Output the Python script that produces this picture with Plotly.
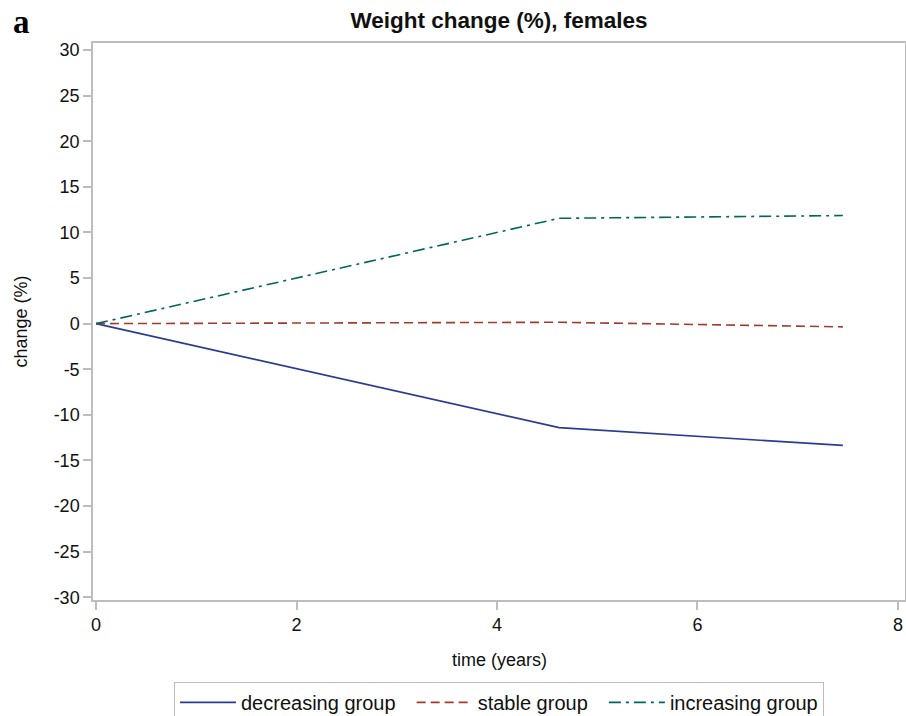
import plotly.graph_objects as go

time_years = [0, 4.62, 7.45]
decreasing = [0, -11.4, -13.35]
stable = [0, 0.15, -0.35]
increasing = [0, 11.55, 11.85]

series_names = ["decreasing group", "stable group", "increasing group"]
series_colors = ["#2A3B93", "#A23A2E", "#01665E"]
series_dash = ["solid", "9px,5px", "12px,5px,3px,5px"]
y_ticks = list(range(-30, 31, 5))
y_tick_labels = [str(v) for v in y_ticks]
x_ticks = [0, 2, 4, 6, 8]
x_tick_labels = [str(v) for v in x_ticks]

FONT = "Liberation Sans, Arial, sans-serif"
NBSP = "\u00a0"

fig = go.Figure()
n = len(series_names)
for i, (name, vals, col, dash) in enumerate(zip(series_names, [decreasing, stable, increasing],
                                                  series_colors, series_dash)):
    label = name + (NBSP * 2 if i < n - 1 else "")
    fig.add_trace(go.Scatter(x=time_years, y=vals, mode="lines", name=label,
                             line=dict(color=col, width=1.6, dash=dash)))

axis_common = dict(showgrid=False, zeroline=False, showline=True, mirror=True,
                   linecolor="#BDBDBD", linewidth=1.5, ticks="outside", ticklen=8,
                   tickcolor="#BDBDBD", tickwidth=1.5,
                   tickfont=dict(family=FONT, size=18, color="#111111"))

fig.update_layout(
    width=906, height=716,
    margin=dict(l=93, r=1, t=43, b=116, autoexpand=False),
    paper_bgcolor="white", plot_bgcolor="white",
    title=dict(text="<b>Weight change (%), females</b>", x=0.5, xref="paper", xanchor="center",
               y=1 - 20 / 716, yanchor="middle", yref="container",
               font=dict(family=FONT, size=22.5, color="#111111")),
    xaxis=dict(range=[-0.03, 8.07], tickvals=x_ticks, ticktext=x_tick_labels, **axis_common),
    yaxis=dict(range=[-30.3, 30.77], tickvals=y_ticks, ticktext=y_tick_labels, **axis_common),
    showlegend=True,
    legend=dict(orientation="h", x=0.5, xanchor="center", y=-0.147, yanchor="top",
                bordercolor="#BDBDBD", borderwidth=1, bgcolor="white",
                font=dict(family=FONT, size=20, color="#111111"),
                itemwidth=56, tracegroupgap=0),
    annotations=[
        dict(text="time (years)", xref="paper", yref="paper", x=0.5, y=-0.108,
             xanchor="center", yanchor="middle", showarrow=False,
             font=dict(family=FONT, size=18, color="#111111")),
        dict(text="change (%)", xref="paper", yref="paper", x=0, xshift=-73, y=0.5,
             xanchor="center", yanchor="middle", textangle=-90, showarrow=False,
             font=dict(family=FONT, size=18, color="#111111")),
        dict(text="<b>a</b>", xref="paper", yref="paper", x=0, xshift=-93 + 11, y=1,
             yshift=43 - 22, xanchor="left", yanchor="middle", showarrow=False,
             font=dict(family="Liberation Serif, Times New Roman, serif", size=33, color="#000000")),
    ],
)

fig.write_html("out.html", config={"displayModeBar": False},
               post_script="document.body.style.margin='0';document.body.style.padding='0';"
                           "document.documentElement.style.overflow='hidden';")
